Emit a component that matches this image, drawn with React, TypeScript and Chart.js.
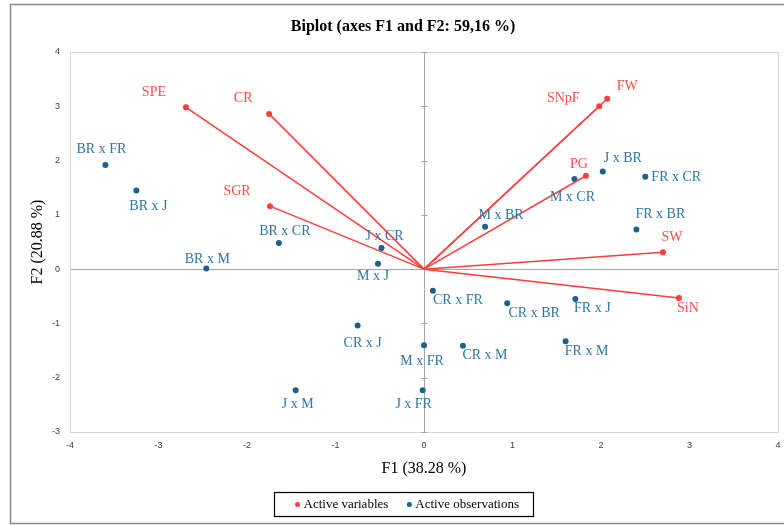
import React, { useEffect, useRef } from "react";
import { Chart, registerables } from "chart.js";

Chart.register(...registerables);

const titleText = "Biplot (axes F1 and F2: 59,16 %)";
const xAxisTitle = "F1 (38.28 %)";
const yAxisTitle = "F2 (20.88 %)";
const legendLabels = ["Active variables", "Active observations"];

const variableNames = ["SPE", "CR", "SGR", "SNpF", "FW", "PG", "SW", "SiN"];
const variableF1 = [-2.69, -1.75, -1.74, 1.98, 2.07, 1.83, 2.7, 2.88];
const variableF2 = [2.98, 2.86, 1.16, 3.0, 3.14, 1.72, 0.31, -0.53];

const observationNames = [
  "BR x FR", "BR x J", "BR x CR", "BR x M", "J x CR", "M x J", "M x BR", "M x CR",
  "J x BR", "FR x CR", "FR x BR", "CR x FR", "CR x BR", "FR x J", "CR x M", "FR x M",
  "M x FR", "CR x J", "J x M", "J x FR",
];
const observationF1 = [
  -3.6, -3.25, -1.64, -2.46, -0.48, -0.52, 0.69, 1.7, 2.02, 2.5, 2.4, 0.1, 0.94, 1.71,
  0.44, 1.6, 0.0, -0.75, -1.45, -0.015,
];
const observationF2 = [
  1.92, 1.45, 0.48, 0.01, 0.39, 0.1, 0.78, 1.66, 1.8, 1.7, 0.73, -0.4, -0.63, -0.55,
  -1.41, -1.33, -1.4, -1.04, -2.23, -2.23,
];

// label placement (pixel offsets from the mark) – styling only
const variableLabelOffsets: [number, number][] = [
  [-32, -15], [-26, -16], [-33, -15], [-36, -8], [20, -12], [-7, -11], [9, -15], [9, 10],
];
const observationLabelOffsets: [number, number][] = [
  [-4, -16], [12, 16], [6, -12], [1, -9], [3, -12], [-5, 13], [16, -11], [-2, 18],
  [20, -13], [31, 0], [24, -15], [25, 9], [27, 10], [17, 9], [22, 10], [21, 10],
  [-2, 16], [5, 18], [2, 14], [-9, 14],
];

const RED = "#ff3d3d";
const RED_TEXT = "#ff4d4d";
const BLUE = "#1a628c";
const BLUE_TEXT = "#2f77a1";
const SERIF = "'Liberation Serif', 'Times New Roman', serif";
const SANS = "'Liberation Sans', Arial, sans-serif";

export default function App() {
  const ref = useRef<HTMLCanvasElement | null>(null);

  useEffect(() => {
    if (!ref.current) return;

    const variableDatasets = variableNames.map((name, i) => ({
      label: name,
      type: "scatter" as const,
      showLine: true,
      data: [
        { x: 0, y: 0 },
        { x: variableF1[i], y: variableF2[i] },
      ],
      borderColor: RED,
      borderWidth: 1.5,
      backgroundColor: RED,
      pointRadius: [0, 3],
      pointBorderWidth: 0,
      pointHoverRadius: [0, 3],
    }));

    const observationDataset = {
      label: legendLabels[1],
      type: "scatter" as const,
      data: observationF1.map((x, i) => ({ x, y: observationF2[i] })),
      backgroundColor: BLUE,
      borderColor: BLUE,
      pointRadius: 3,
      pointBorderWidth: 0,
    };

    const labelPlugin = {
      id: "labels",
      beforeDatasetsDraw(chart: any) {
        const { ctx, chartArea, scales } = chart;
        ctx.save();
        ctx.strokeStyle = "#d9d9d9";
        ctx.lineWidth = 1;
        ctx.strokeRect(
          Math.round(chartArea.left) + 0.5,
          Math.round(chartArea.top) + 0.5,
          Math.round(chartArea.right - chartArea.left),
          Math.round(chartArea.bottom - chartArea.top)
        );
        const x0 = Math.round(scales.x.getPixelForValue(0)) + 0.5;
        ctx.strokeStyle = "#a6a6a6";
        ctx.beginPath();
        for (let v = -3; v <= 4; v++) {
          const y = Math.round(scales.y.getPixelForValue(v)) + 0.5;
          ctx.moveTo(x0 - 3, y);
          ctx.lineTo(x0 + 3, y);
        }
        ctx.stroke();
        ctx.restore();
      },
      afterDatasetsDraw(chart: any) {
        const { ctx } = chart;
        ctx.save();
        ctx.font = `14px ${SERIF}`;
        ctx.textAlign = "center";
        ctx.textBaseline = "middle";
        variableNames.forEach((name, i) => {
          const el = chart.getDatasetMeta(i).data[1];
          const [dx, dy] = variableLabelOffsets[i];
          ctx.fillStyle = RED_TEXT;
          ctx.fillText(name, el.x + dx, el.y + dy);
        });
        const meta = chart.getDatasetMeta(variableNames.length);
        observationNames.forEach((name, i) => {
          const el = meta.data[i];
          const [dx, dy] = observationLabelOffsets[i];
          ctx.fillStyle = BLUE_TEXT;
          ctx.fillText(name, el.x + dx, el.y + dy);
        });
        ctx.restore();
      },
      afterDraw(chart: any) {
        const { ctx } = chart;
        ctx.save();
        ctx.strokeStyle = "#8c8c8c";
        ctx.lineWidth = 1.5;
        ctx.strokeRect(10.5, 4.5, 800, 519);
        // title
        ctx.font = `bold 16px ${SERIF}`;
        ctx.fillStyle = "#000";
        ctx.textAlign = "center";
        ctx.textBaseline = "middle";
        ctx.fillText(titleText, 403, 27);
        // legend
        ctx.font = `13px ${SERIF}`;
        ctx.textBaseline = "middle";
        ctx.textAlign = "left";
        const w1 = ctx.measureText(legendLabels[0]).width;
        const w2 = ctx.measureText(legendLabels[1]).width;
        const boxW = 23 + 6 + w1 + 21 + 6 + w2 + 15;
        const bx = Math.round(404 - boxW / 2) + 0.5;
        const by = 492.5;
        const bh = 24;
        ctx.strokeStyle = "#000";
        ctx.lineWidth = 1.2;
        ctx.strokeRect(bx, by, Math.round(boxW), bh);
        const cy = by + bh / 2;
        let x = bx + 23;
        ctx.fillStyle = RED;
        ctx.beginPath();
        ctx.arc(x, cy, 2.5, 0, Math.PI * 2);
        ctx.fill();
        x += 6;
        ctx.fillStyle = "#000";
        ctx.fillText(legendLabels[0], x, cy);
        x += w1 + 21;
        ctx.fillStyle = BLUE;
        ctx.beginPath();
        ctx.arc(x, cy, 2.5, 0, Math.PI * 2);
        ctx.fill();
        x += 6;
        ctx.fillStyle = "#000";
        ctx.fillText(legendLabels[1], x, cy);
        ctx.restore();
      },
    };

    const zeroGrid = (c: any) => (c.tick && c.tick.value === 0 ? "#a6a6a6" : "rgba(0,0,0,0)");

    const chart = new Chart(ref.current, {
      type: "scatter",
      data: { datasets: [...variableDatasets, observationDataset] as any },
      options: {
        responsive: false,
        animation: false,
        layout: { padding: { left: 10, right: 6, top: 52, bottom: 45 } },
        plugins: {
          legend: { display: false },
          tooltip: { enabled: false },
          title: { display: false },
        },
        scales: {
          x: {
            type: "linear",
            min: -4,
            max: 4,
            ticks: { stepSize: 1, color: "#404040", font: { family: SANS, size: 9 }, padding: 8 },
            grid: { color: zeroGrid, drawTicks: false, lineWidth: 1 },
            border: { display: false },
            title: {
              display: true,
              text: xAxisTitle,
              color: "#000",
              font: { family: SERIF, size: 16 },
              padding: { top: 0, bottom: 2 },
            },
            afterFit: (s: any) => {
              s.height = 48;
              s.paddingLeft = 0;
              s.paddingRight = 0;
            },
          },
          y: {
            type: "linear",
            min: -3,
            max: 4,
            ticks: { stepSize: 1, color: "#404040", font: { family: SANS, size: 9 }, padding: 10 },
            grid: { color: zeroGrid, drawTicks: false, lineWidth: 1 },
            border: { display: false },
            title: {
              display: true,
              text: yAxisTitle,
              color: "#000",
              font: { family: SERIF, size: 16 },
              padding: { top: 18, bottom: 0 },
            },
            afterFit: (s: any) => {
              s.width = 60;
              s.paddingTop = 0;
              s.paddingBottom = 0;
            },
          },
        },
      },
      plugins: [labelPlugin],
    });

    return () => chart.destroy();
  }, []);

  return (
    <div style={{ position: "fixed", left: 0, top: 0, width: 784, height: 525, background: "#fff" }}>
      <canvas ref={ref} width={784} height={525} />
    </div>
  );
}
